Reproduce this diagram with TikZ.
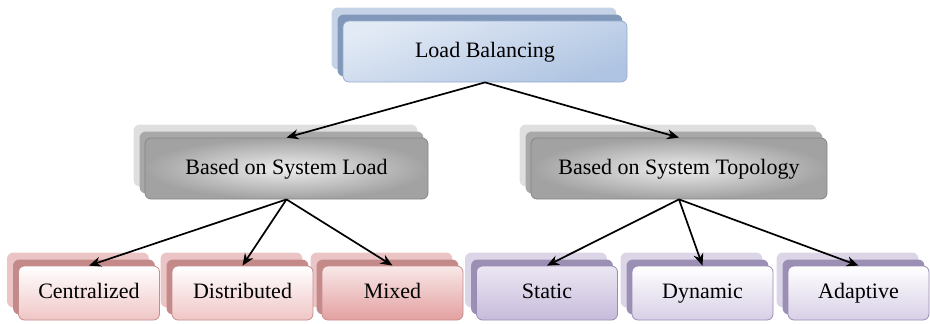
\documentclass[tikz,border=0pt]{standalone}
\usepackage{fontspec}
\setmainfont{Liberation Serif}
\usetikzlibrary{arrows.meta,backgrounds}
\definecolor{bluefA}{HTML}{E2EAF5}
\definecolor{bluefB}{HTML}{AFC4E2}
\definecolor{blueBd}{HTML}{95ACCD}
\definecolor{blueL}{HTML}{C6D3E6}
\definecolor{blueD}{HTML}{8198BA}
\definecolor{grayA}{HTML}{EDEDED}
\definecolor{grayB}{HTML}{A2A2A2}
\definecolor{grayBd}{HTML}{858585}
\definecolor{grayL}{HTML}{DFDFDF}
\definecolor{grayD}{HTML}{A8A8A8}
\definecolor{pinkA}{HTML}{FFFFFF}
\definecolor{pinkB}{HTML}{F0C6C6}
\definecolor{pinkM}{HTML}{E3A0A0}
\definecolor{pinkBd}{HTML}{C78C8C}
\definecolor{pinkL}{HTML}{EBC5C5}
\definecolor{pinkD}{HTML}{C48A8A}
\definecolor{purA}{HTML}{FFFFFF}
\definecolor{purB}{HTML}{D8CFE6}
\definecolor{purS}{HTML}{C7BBDB}
\definecolor{purBd}{HTML}{9A8BB6}
\definecolor{purL}{HTML}{DCD5E8}
\definecolor{purD}{HTML}{9C8FB4}
\tikzset{
  box/.style={rounded corners=6pt, draw, line width=0.8pt, font=\fontsize{22}{26}\selectfont, inner sep=0pt, align=center, text height=15pt, text depth=4pt},
  bluebox/.style={box, draw=blueBd, minimum width=284pt, minimum height=61pt, top color=bluefA, bottom color=bluefB, shading angle=20},
  graybox/.style={box, draw=grayBd, minimum height=61pt, inner color=grayA, outer color=grayB},
  pinkbox/.style={box, draw=pinkBd, minimum width=141pt, minimum height=54pt, top color=pinkA, bottom color=pinkB},
  purbox/.style={box, draw=purBd, minimum width=141pt, minimum height=54pt, top color=purA, bottom color=purB},
  arr/.style={-{Stealth[length=12pt,width=10pt]}, line width=1.7pt, black},
}
\newcommand{\stackbox}[3]{%
  \fill[#2, rounded corners=6pt] ([shift={(-11pt,13pt)}]#1.south west) rectangle ([shift={(-11pt,13pt)}]#1.north east);
  \fill[#3, rounded corners=6pt] ([shift={(-5pt,6pt)}]#1.south west) rectangle ([shift={(-5pt,6pt)}]#1.north east);
}
\begin{document}
\begin{tikzpicture}[x=1pt,y=1pt]
\useasboundingbox (0,0) rectangle (930,-324);
\node[bluebox] (lb) at (485,-51.5) {Load Balancing};
\node[graybox, minimum width=283pt] (sl) at (286.5,-168.5) {Based on System Load};
\node[graybox, minimum width=296pt] (st) at (679,-168.5) {Based on System Topology};
\node[pinkbox] (c) at (89,-293) {Centralized};
\node[pinkbox] (d) at (242.5,-293) {Distributed};
\node[pinkbox, top color=pinkB!40, bottom color=pinkM] (m) at (392.5,-293) {Mixed};
\node[purbox, top color=purB!50, bottom color=purS] (s) at (547,-293) {Static};
\node[purbox] (dy) at (702.5,-293) {Dynamic};
\node[purbox] (a) at (858.5,-293) {Adaptive};
\begin{pgfonlayer}{background}
\stackbox{lb}{blueL}{blueD}
\stackbox{sl}{grayL}{grayD}
\stackbox{st}{grayL}{grayD}
\stackbox{c}{pinkL}{pinkD}
\stackbox{d}{pinkL}{pinkD}
\stackbox{m}{pinkL}{pinkD}
\stackbox{s}{purL}{purD}
\stackbox{dy}{purL}{purD}
\stackbox{a}{purL}{purD}
\end{pgfonlayer}
\draw[arr] (lb.south) -- (sl.north);
\draw[arr] (lb.south) -- (st.north);
\draw[arr] (sl.south) -- (c.north);
\draw[arr] (sl.south) -- (d.north);
\draw[arr] (sl.south) -- (m.north);
\draw[arr] (st.south) -- (s.north);
\draw[arr] (st.south) -- (dy.north);
\draw[arr] (st.south) -- (a.north);
\end{tikzpicture}
\end{document}
